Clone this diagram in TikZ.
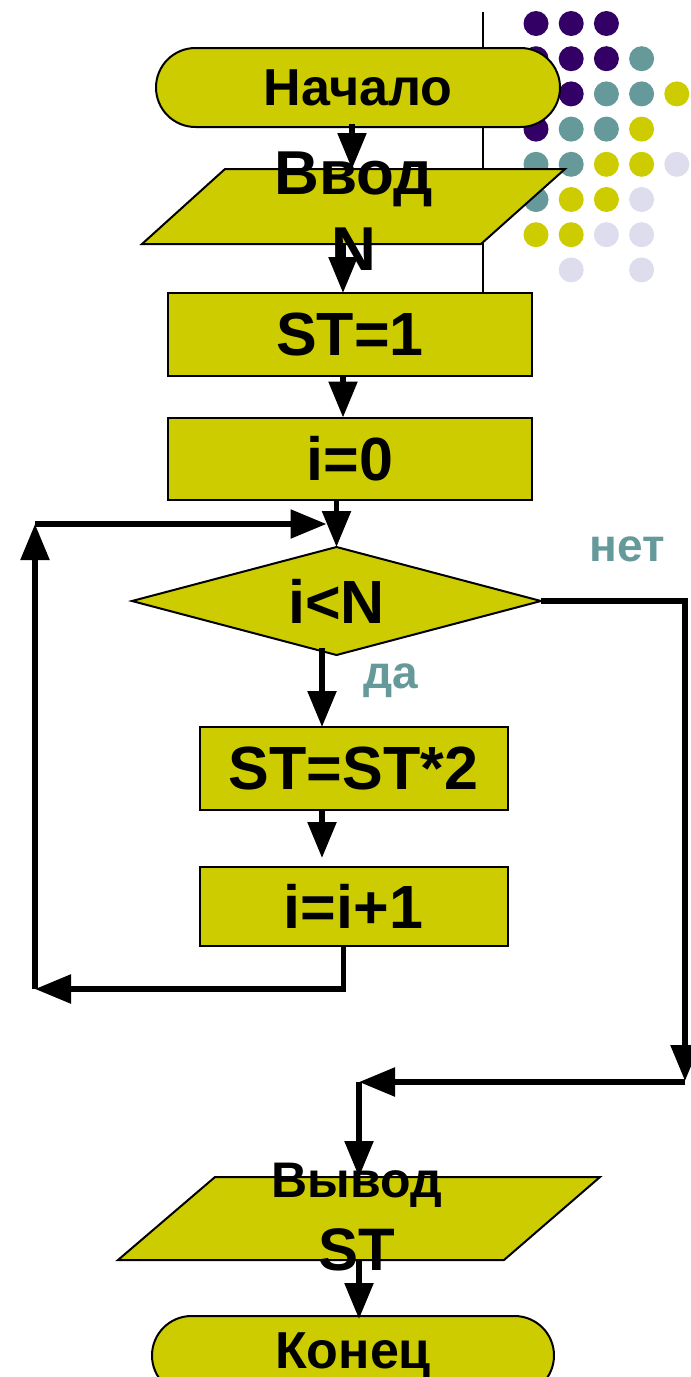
\documentclass[tikz,border=0pt]{standalone}
\usepackage{fontspec}
\setmainfont{Liberation Sans}
\usetikzlibrary{arrows.meta,shapes.geometric,shapes.misc}
\definecolor{fillc}{HTML}{CCCC00}
\definecolor{purp}{HTML}{330066}
\definecolor{tealc}{HTML}{669999}
\definecolor{lav}{HTML}{DDDDEE}
\begin{document}
\begin{tikzpicture}[x=1pt,y=-1pt,
  shp/.style={draw=black, line width=2pt, fill=fillc},
  box/.style={shp, rectangle, inner sep=0pt, outer sep=0pt, font=\fontsize{61}{70}\selectfont\bfseries},
  term/.style={shp, rounded rectangle, minimum width=404pt, minimum height=79pt, inner sep=0pt, outer sep=0pt, font=\fontsize{52}{60}\selectfont\bfseries},
  iotext/.style={inner sep=0pt, align=center},
  lbl/.style={text=tealc, inner sep=0pt, font=\fontsize{46}{50}\selectfont\bfseries},
  arr/.style={line width=5.5pt, -{Triangle[length=36pt,width=28pt]}},
  dot/.style={circle, inner sep=0pt, minimum size=25pt},
]
\clip (0,0) rectangle (691,1377);
% decoration
\draw[line width=2pt] (483,12) -- (483,293);
\foreach \c/\r/\col in {0/0/purp,1/0/purp,2/0/purp,
  0/1/purp,1/1/purp,2/1/purp,3/1/tealc,
  0/2/purp,1/2/purp,2/2/tealc,3/2/tealc,4/2/fillc,
  0/3/purp,1/3/tealc,2/3/tealc,3/3/fillc,
  0/4/tealc,1/4/tealc,2/4/fillc,3/4/fillc,4/4/lav,
  0/5/tealc,1/5/fillc,2/5/fillc,3/5/lav,
  0/6/fillc,1/6/fillc,2/6/lav,3/6/lav,
  1/7/lav,3/7/lav}{
  \node[dot, fill=\col] (d\c\r) at ({536+35.2*\c},{23.5+35.2*\r}) {};
}
% shapes
\node[term] (nach) at (358,87.5) {Начало};
\draw[shp] (142,244) -- (225,169) -- (565,169) -- (481,244) -- cycle;
\node[minimum width=340pt, minimum height=75pt, inner sep=0pt, outer sep=0pt] (vvod) at (353.5,206.5) {};
\node[iotext, font=\fontsize{62}{76}\selectfont\bfseries] (vvodt) at (354,211) {Ввод\\N};
\node[box, minimum width=364pt, minimum height=83pt] (st1) at (350,334.5) {ST=1};
\node[box, minimum width=364pt, minimum height=82pt] (i0) at (350,458.5) {i=0};
\node[shp, diamond, shape aspect=3.8, minimum width=409pt, minimum height=108pt, inner sep=0pt, outer sep=0pt, font=\fontsize{61}{70}\selectfont\bfseries] (cond) at (336.5,601) {i<N};
\node[box, minimum width=308pt, minimum height=83pt] (st2) at (353.5,768.5) {ST=ST*2};
\node[box, minimum width=308pt, minimum height=79pt] (i1) at (353.5,906.5) {i=i+1};
\draw[shp] (118,1260) -- (215,1177) -- (600,1177) -- (504,1260) -- cycle;
\node[minimum width=385pt, minimum height=83pt, inner sep=0pt, outer sep=0pt] (vyvod) at (359,1218.5) {};
\node[iotext, font=\fontsize{60}{73}\selectfont\bfseries] (vyvodt) at (357,1217) {{\fontsize{50}{73}\selectfont Вывод}\\ST};
\node[term, minimum width=402pt] (kon) at (353,1355.5) {Конец};
% labels
\node[lbl] (net) at (627,549) {нет};
\node[lbl] (da) at (391,681) {да};
% connectors
\coordinate (lb) at (35,989);
\coordinate (lt) at (35,524);
\coordinate (nr) at (685,1081);
\coordinate (nl) at (359,1082);
\draw[arr] ([xshift=-6pt,yshift=3pt]nach.south) -- ([xshift=-6pt]nach.south |- vvod.north);
\draw[arr] ([xshift=-7pt]st1.north |- vvod.south) -- ([xshift=-7pt]st1.north);
\draw[arr] ([xshift=-7pt]st1.south) -- ([xshift=-7pt]i0.north);
\draw[arr] (cond.north |- i0.south) -- (cond.north);
\draw[arr] ([xshift=-31.5pt,yshift=7pt]cond.south -| st2.north) -- ([xshift=-31.5pt]st2.north);
\draw[arr] ([xshift=-31.5pt]st2.south) -- ([xshift=-31.5pt,yshift=9pt]i1.north);
\draw[arr] ([xshift=-10pt]i1.south) |- (lb);
\draw[arr] (lb) -- (lt);
\draw[arr] (lt) -- ([xshift=-10pt]cond.north |- lt);
\draw[arr] (cond.east) -| (nr);
\draw[arr] (nl -| nr) -- (nl);
\draw[arr] (nl) -- (nl |- vyvod.north);
\draw[arr] (vyvod.south) -- ([yshift=-3pt]vyvod.south |- kon.north);
\end{tikzpicture}
\end{document}
